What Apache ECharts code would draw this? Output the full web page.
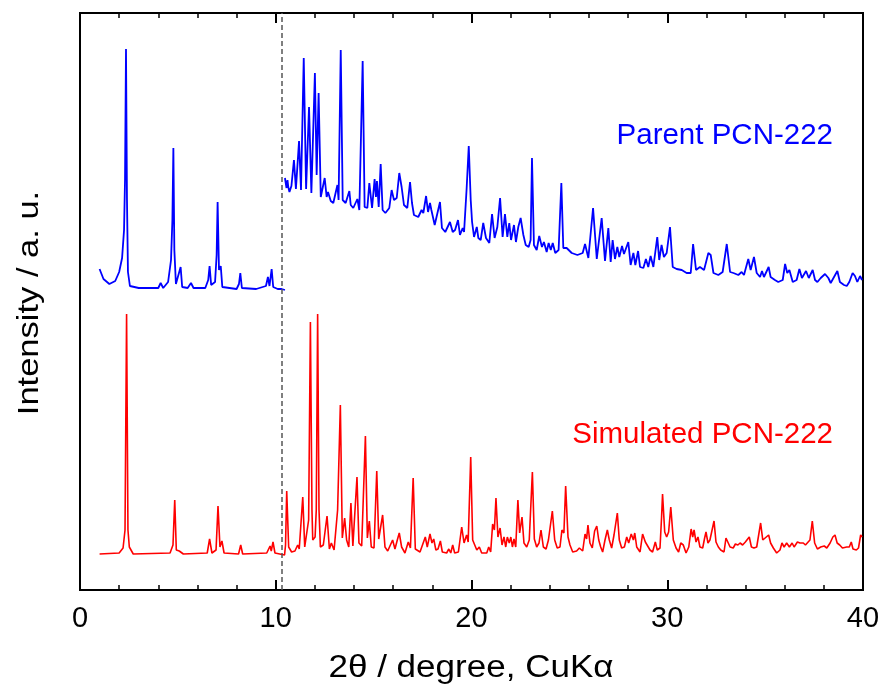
<!DOCTYPE html>
<html>
<head>
<meta charset="utf-8">
<script src="https://cdn.jsdelivr.net/npm/echarts@6/dist/echarts.min.js"></script>
<style>html,body{margin:0;padding:0;background:#fff}#c{width:882px;height:691px}</style>
</head>
<body>
<div id="c"></div>
<script>
// x tick labels
const xTicks = [0, 10, 20, 30, 40];
const cutPosition = 10.3;

// Parent PCN-222, low-angle scan (2θ, intensity a.u.)
const parentLow = [[1.0,321],[1.2,311],[1.5,306],[1.8,309],[2.0,318],[2.15,332],[2.25,360],[2.3,410],[2.35,541],[2.4,390],[2.45,318],[2.55,304],[3.0,302],[4.0,302],[4.12,307],[4.25,302],[4.5,308],[4.65,330],[4.72,370],[4.77,442],[4.82,340],[4.9,306],[5.0,304],[5.14,323],[5.22,303],[5.5,302],[5.67,307],[5.8,302],[6.4,302],[6.55,310],[6.62,324],[6.7,305],[6.9,308],[6.98,335],[7.03,388],[7.1,320],[7.19,324],[7.27,303],[8.0,301],[8.12,306],[8.19,317],[8.27,302],[9.0,301],[9.5,304],[9.6,313],[9.68,304],[9.79,321],[9.87,303],[10.1,301],[10.2,303],[10.3,301],[10.47,300]];

// Parent PCN-222, high-angle scan
const parentHigh = [[10.47,412],[10.55,402],[10.6,410],[10.64,403],[10.7,398],[10.8,404],[10.93,430],[11.03,401],[11.19,449],[11.29,400],[11.43,532],[11.55,401],[11.7,483],[11.82,397],[12.0,517],[12.09,415],[12.19,497],[12.3,393],[12.5,412],[12.6,393],[12.67,398],[12.81,389],[12.94,387],[13.15,405],[13.21,390],[13.32,540],[13.42,390],[13.57,387],[13.76,399],[13.83,385],[13.96,382],[14.17,391],[14.27,380],[14.44,529],[14.54,383],[14.68,382],[14.78,407],[14.92,382],[15.05,411],[15.12,393],[15.17,409],[15.26,383],[15.36,426],[15.46,380],[15.6,377],[15.8,382],[15.92,400],[16.04,390],[16.18,392],[16.31,417],[16.43,403],[16.55,385],[16.72,382],[16.86,408],[16.96,387],[17.06,375],[17.28,373],[17.45,380],[17.54,377],[17.68,394],[17.78,378],[17.88,387],[17.95,380],[18.02,382],[18.12,365],[18.39,388],[18.49,362],[18.66,358],[18.9,368],[19.04,358],[19.16,360],[19.31,370],[19.41,355],[19.55,362],[19.62,358],[19.75,401],[19.86,444],[19.96,390],[20.03,368],[20.13,353],[20.27,363],[20.35,352],[20.47,350],[20.6,367],[20.74,352],[20.91,347],[21.05,376],[21.18,352],[21.32,363],[21.46,392],[21.59,353],[21.71,376],[21.83,353],[21.93,367],[22.02,350],[22.17,365],[22.27,348],[22.39,363],[22.51,372],[22.65,355],[22.77,345],[22.92,343],[23.02,350],[23.09,432],[23.19,345],[23.33,340],[23.46,354],[23.6,343],[23.7,348],[23.84,338],[23.94,347],[24.05,340],[24.15,347],[24.28,337],[24.45,340],[24.59,407],[24.69,342],[24.86,342],[25.12,337],[25.41,335],[25.68,337],[25.8,346],[25.97,332],[26.21,382],[26.4,331],[26.65,372],[26.82,329],[26.99,362],[27.11,328],[27.21,350],[27.33,331],[27.45,343],[27.55,333],[27.69,344],[27.79,336],[28.01,348],[28.13,325],[28.27,337],[28.37,325],[28.51,339],[28.61,323],[28.78,322],[28.91,331],[29.03,323],[29.15,334],[29.29,323],[29.49,353],[29.59,330],[29.71,345],[29.83,333],[29.97,337],[30.14,363],[30.28,323],[30.48,321],[30.74,320],[30.99,317],[31.2,317],[31.32,346],[31.47,320],[31.67,323],[31.88,320],[32.1,337],[32.22,335],[32.36,317],[32.61,315],[32.83,318],[33.04,346],[33.21,318],[33.38,317],[33.63,315],[33.8,318],[33.92,315],[34.14,331],[34.26,320],[34.43,333],[34.57,317],[34.74,313],[34.84,319],[34.94,313],[35.18,323],[35.28,313],[35.5,310],[35.67,308],[35.9,310],[36.02,326],[36.13,317],[36.24,320],[36.41,308],[36.61,310],[36.75,321],[36.88,312],[37.09,319],[37.23,312],[37.43,320],[37.55,310],[37.67,308],[37.84,312],[38.06,316],[38.23,312],[38.35,307],[38.52,313],[38.69,319],[38.82,308],[39.03,305],[39.17,304],[39.3,308],[39.47,317],[39.59,314],[39.71,308],[39.85,314],[39.95,310]];

// Simulated PCN-222
const simulated = [[1.0,36],[2.0,37],[2.2,42],[2.3,60],[2.38,276],[2.45,60],[2.52,43],[2.72,36],[4.6,37],[4.75,45],[4.84,90],[4.92,40],[5.07,39],[5.28,36],[6.5,37],[6.62,51],[6.74,37],[6.95,40],[7.05,84],[7.15,43],[7.25,49],[7.36,37],[8.1,36],[8.21,45],[8.31,36],[9.54,37],[9.71,44],[9.77,39],[9.86,48],[9.96,37],[10.45,35],[10.5,45],[10.56,99],[10.66,43],[10.81,38],[10.98,39],[11.12,45],[11.2,41],[11.38,93],[11.48,43],[11.58,45],[11.68,70],[11.77,268],[11.85,80],[11.89,50],[12.01,53],[12.07,80],[12.14,276],[12.21,80],[12.28,43],[12.43,45],[12.62,74],[12.74,41],[12.84,47],[12.98,40],[13.16,80],[13.3,185],[13.4,52],[13.52,72],[13.62,50],[13.73,43],[13.84,87],[13.94,44],[14.15,113],[14.25,47],[14.39,44],[14.58,154],[14.68,52],[14.78,69],[14.88,43],[15.02,42],[15.16,119],[15.26,51],[15.46,75],[15.58,43],[15.72,39],[15.97,50],[16.09,41],[16.21,50],[16.31,57],[16.43,43],[16.6,37],[16.77,48],[16.88,42],[17.02,112],[17.13,41],[17.37,38],[17.64,53],[17.74,43],[17.88,56],[17.98,47],[18.07,51],[18.18,40],[18.29,41],[18.41,49],[18.51,38],[18.73,37],[18.84,41],[18.94,37],[19.04,45],[19.14,37],[19.33,38],[19.5,63],[19.62,47],[19.75,55],[19.83,48],[19.96,133],[20.06,50],[20.16,51],[20.27,40],[20.4,43],[20.52,37],[20.78,37],[20.88,43],[20.98,38],[21.08,66],[21.17,60],[21.25,92],[21.35,53],[21.46,62],[21.56,45],[21.66,53],[21.75,43],[21.83,53],[21.93,47],[22.01,53],[22.09,43],[22.17,51],[22.26,43],[22.37,90],[22.46,57],[22.58,73],[22.68,47],[22.82,43],[22.95,50],[23.11,118],[23.21,51],[23.33,43],[23.45,47],[23.55,60],[23.67,43],[23.81,41],[23.93,50],[24.13,79],[24.25,50],[24.38,42],[24.52,43],[24.62,60],[24.72,57],[24.81,104],[24.93,53],[25.03,45],[25.17,38],[25.37,39],[25.51,42],[25.68,39],[25.8,56],[25.88,51],[25.95,65],[26.05,47],[26.17,42],[26.29,59],[26.4,64],[26.5,50],[26.6,43],[26.7,38],[26.82,50],[26.94,60],[27.04,50],[27.16,42],[27.28,55],[27.45,77],[27.55,50],[27.67,42],[27.81,43],[27.93,53],[28.03,47],[28.16,56],[28.27,50],[28.34,57],[28.44,43],[28.61,38],[28.74,56],[28.88,48],[28.98,50],[29.12,40],[29.25,38],[29.39,48],[29.49,40],[29.63,42],[29.71,73],[29.76,96],[29.87,58],[29.97,53],[30.07,58],[30.18,83],[30.31,50],[30.45,42],[30.58,38],[30.69,47],[30.82,45],[30.96,37],[31.1,43],[31.22,61],[31.3,53],[31.37,60],[31.47,48],[31.57,53],[31.67,43],[31.81,42],[31.91,52],[31.98,58],[32.08,47],[32.18,50],[32.39,69],[32.49,48],[32.61,43],[32.73,40],[32.9,38],[33.0,52],[33.1,53],[33.21,43],[33.37,42],[33.48,46],[33.61,45],[33.72,47],[33.85,45],[33.99,48],[34.09,47],[34.19,53],[34.3,43],[34.43,42],[34.57,43],[34.77,67],[34.88,50],[34.98,48],[35.18,55],[35.28,47],[35.42,42],[35.59,37],[35.76,40],[35.86,47],[35.97,43],[36.1,47],[36.24,43],[36.38,47],[36.48,43],[36.65,48],[36.78,47],[36.95,47],[37.06,45],[37.16,43],[37.29,50],[37.41,69],[37.53,47],[37.67,41],[37.84,43],[38.02,44],[38.15,42],[38.32,47],[38.46,53],[38.57,55],[38.68,47],[38.81,45],[38.95,42],[39.05,40],[39.17,43],[39.3,43],[39.4,48],[39.49,41],[39.66,40],[39.77,42],[39.88,55],[39.95,53]];

const FONT = 'Arial, "Liberation Sans", sans-serif';
const chart = echarts.init(document.getElementById('c'), null, {renderer: 'canvas'});

function xAxisDef(position, showLabels) {
  return {
    type: 'value', min: 0, max: 40, interval: 10, position: position, gridIndex: 0,
    axisLine: {show: true, onZero: false, lineStyle: {color: '#000', width: 2}},
    axisTick: {show: true, inside: true, length: 10, lineStyle: {color: '#000', width: 2}},
    minorTick: {show: true, splitNumber: 5, length: 5, lineStyle: {color: '#000', width: 1.5}},
    splitLine: {show: false}, minorSplitLine: {show: false},
    axisLabel: {show: showLabels, margin: 14, fontSize: 29, fontFamily: FONT, color: '#000',
      formatter: v => xTicks.includes(v) ? String(v) : ''}
  };
}

chart.setOption({
  animation: false,
  backgroundColor: '#fff',
  grid: {left: 80, right: 19, top: 13, bottom: 101, containLabel: false, outerBoundsMode: 'none',
    show: true, borderColor: '#000', borderWidth: 2},
  xAxis: [xAxisDef('bottom', true), xAxisDef('top', false)],
  yAxis: [{
    type: 'value', min: 0, max: 577,
    axisLine: {show: true, onZero: false, lineStyle: {color: '#000', width: 2}},
    axisTick: {show: false}, axisLabel: {show: false}, splitLine: {show: false}
  }],
  graphic: [
    {type: 'text', x: 30, y: 303, rotation: Math.PI / 2, scaleX: 1.15,
      style: {text: 'Intensity / a. u.', fill: '#000', font: '30px ' + FONT, align: 'center', verticalAlign: 'middle'}},
    {type: 'text', x: 471, y: 668, scaleX: 1.13,
      style: {text: '2θ / degree, CuKα', fill: '#000', font: '31px ' + FONT, align: 'center', verticalAlign: 'middle'}},
    {type: 'text', x: 833, y: 136,
      style: {text: 'Parent PCN-222', fill: '#0000ff', font: '29.5px ' + FONT, align: 'right', verticalAlign: 'middle'}},
    {type: 'text', x: 833, y: 435,
      style: {text: 'Simulated PCN-222', fill: '#ff0000', font: '29.5px ' + FONT, align: 'right', verticalAlign: 'middle'}}
  ],
  series: [
    {name: 'Simulated PCN-222', type: 'line', data: simulated, showSymbol: false, symbol: 'none',
      lineStyle: {color: '#ff0000', width: 1.6}, z: 3,
      markLine: {silent: true, symbol: 'none', label: {show: false},
        lineStyle: {color: '#555', type: [5, 3], width: 1.5},
        data: [{xAxis: cutPosition}]}},
    {name: 'Parent PCN-222 low', type: 'line', data: parentLow, showSymbol: false, symbol: 'none',
      lineStyle: {color: '#0000ff', width: 1.8}, z: 3},
    {name: 'Parent PCN-222 high', type: 'line', data: parentHigh, showSymbol: false, symbol: 'none',
      lineStyle: {color: '#0000ff', width: 1.8}, z: 3}
  ]
});
</script>
</body>
</html>
